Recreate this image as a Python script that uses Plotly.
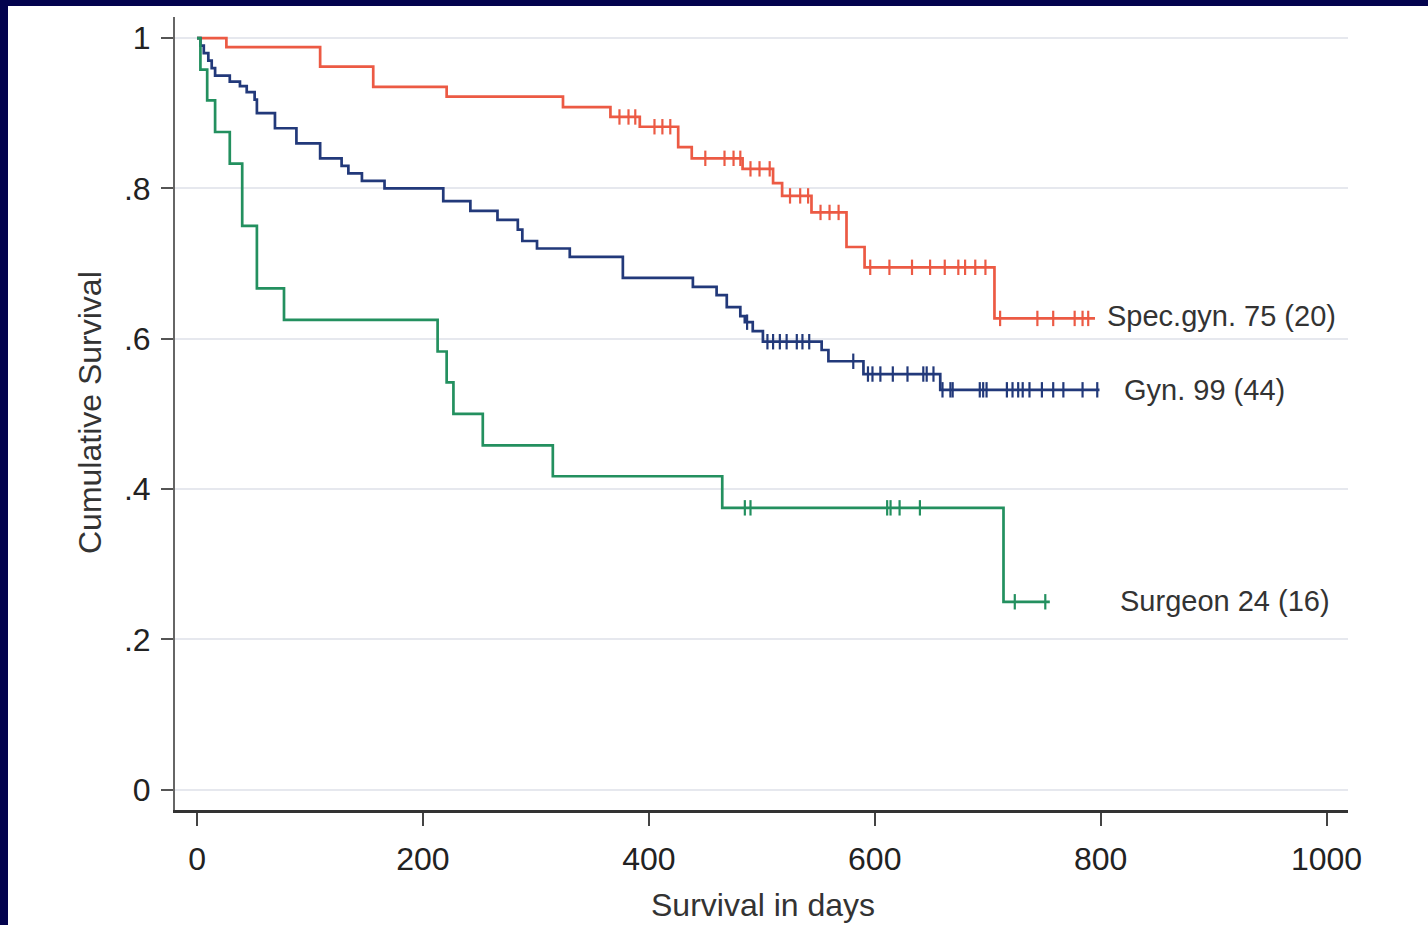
import numpy as np
import plotly.graph_objects as go

# ---------------- data ----------------
# Spec.gyn. (n=75)
red_t = [0, 26, 109, 156, 221, 324, 366, 392, 426, 438, 483, 510, 518, 544, 575, 591, 706]
red_s = [1.0, 0.988, 0.962, 0.935, 0.922, 0.908, 0.895, 0.882, 0.855, 0.840, 0.826, 0.807,
         0.790, 0.768, 0.722, 0.695, 0.627]
red_end = 795
red_cens = [374, 382, 388, 405, 412, 419, 450, 467, 475, 481, 490, 498, 507, 525, 534, 541,
            552, 560, 568, 596, 613, 633, 649, 662, 674, 680, 689, 698, 711, 744, 758, 777,
            784, 789]

# Gyn. (n=99)
blue_t = [0, 3, 6, 10, 13, 16, 29, 38, 44, 51, 53, 69, 88, 109, 128, 134, 146, 166, 218,
          242, 266, 284, 288, 301, 330, 377, 439, 460, 469, 481, 485, 492, 501, 553, 559,
          590, 658]
blue_s = [1.0, 0.990, 0.980, 0.970, 0.960, 0.950, 0.942, 0.936, 0.928, 0.918, 0.900, 0.880,
          0.860, 0.840, 0.830, 0.820, 0.810, 0.800, 0.783, 0.770, 0.758, 0.745, 0.730,
          0.720, 0.709, 0.681, 0.669, 0.658, 0.642, 0.630, 0.622, 0.610, 0.596, 0.585,
          0.570, 0.553, 0.532]
blue_end = 799
blue_cens = [487, 505, 510, 516, 522, 531, 536, 542, 581, 594, 598, 605, 616, 629, 643, 646,
             652, 660, 667, 669, 693, 696, 699, 717, 722, 727, 731, 737, 748, 758, 767, 784,
             797]

# Surgeon (n=24)
green_t = [0, 3, 9, 16, 29, 40, 53, 77, 213, 221, 227, 253, 315, 465, 714]
green_s = [1.0, 0.958, 0.917, 0.875, 0.833, 0.750, 0.667, 0.625, 0.583, 0.542, 0.500,
           0.458, 0.417, 0.375, 0.250]
green_end = 755
green_cens = [485, 490, 611, 614, 622, 640, 724, 751]

group_labels = ["Spec.gyn. 75 (20)", "Gyn. 99 (44)", "Surgeon 24 (16)"]
label_pos_x = [804, 819, 815]
label_pos_y = [0.630, 0.532, 0.251]

x_ticks = [0, 200, 400, 600, 800, 1000]
y_ticks = [0, 0.2, 0.4, 0.6, 0.8, 1.0]
y_ticktext = ["0", ".2", ".4", ".6", ".8", "1"]

# ---------------- figure ----------------
W, H = 1428, 925
L, R, T, B = 175, 80, 17, 115
PW, PH = W - L - R, H - T - B
FONT = "Liberation Sans, Arial, Helvetica, sans-serif"

colors = ["#EC5A44", "#22397A", "#23905F"]
series = [
    (red_t, red_s, red_end, red_cens),
    (blue_t, blue_s, blue_end, blue_cens),
    (green_t, green_s, green_end, green_cens),
]

fig = go.Figure()
for (t, s, end, cens), col, name in zip(series, colors, group_labels):
    xs = list(t) + [end]
    ys = list(s) + [s[-1]]
    fig.add_trace(go.Scatter(x=xs, y=ys, mode="lines", line=dict(color=col, width=2.7, shape="hv"),
                             name=name, showlegend=False, hoverinfo="skip"))
    idx = np.searchsorted(np.array(t), np.array(cens), side="right") - 1
    cy = [s[i] for i in idx]
    fig.add_trace(go.Scatter(x=cens, y=cy, mode="markers",
                             marker=dict(symbol="line-ns", size=11, line=dict(color=col, width=2.2)),
                             showlegend=False, hoverinfo="skip"))

for txt, lx, ly in zip(group_labels, label_pos_x, label_pos_y):
    fig.add_annotation(x=lx, y=ly, text=txt, showarrow=False, xanchor="left", yanchor="middle",
                       font=dict(family=FONT, size=29, color="#333333"))

# axis titles
fig.add_annotation(xref="paper", yref="paper", x=(90 - L) / PW, y=(H - B - 413) / PH,
                   text="Cumulative Survival", textangle=-90, showarrow=False,
                   xanchor="center", yanchor="middle",
                   font=dict(family=FONT, size=32, color="#333333"))
fig.add_annotation(xref="paper", yref="paper", x=(763 - L) / PW, y=-(905 - (H - B)) / PH,
                   text="Survival in days", showarrow=False,
                   xanchor="center", yanchor="middle",
                   font=dict(family=FONT, size=32, color="#333333"))

# navy frame bands (top and left)
navy = "#03034E"
fig.add_shape(type="rect", xref="paper", yref="paper", x0=-L / PW, x1=(8 - L) / PW,
              y0=-B / PH, y1=1 + T / PH, fillcolor=navy, line_width=0, layer="above")
fig.add_shape(type="rect", xref="paper", yref="paper", x0=-L / PW, x1=1 + R / PW,
              y0=1 + (T - 6) / PH, y1=1 + T / PH, fillcolor=navy, line_width=0, layer="above")

fig.update_layout(
    width=W, height=H,
    margin=dict(l=L, r=R, t=T, b=B, autoexpand=False),
    paper_bgcolor="white", plot_bgcolor="white",
    font=dict(family=FONT, color="#222222"),
    xaxis=dict(range=[-19.5, 1019], tickvals=x_ticks, ticks="outside", ticklen=13, tickwidth=2,
               tickcolor="#444444", showline=True, linecolor="#333333", linewidth=2.5,
               showgrid=False, zeroline=False, tickfont=dict(size=32, color="#222222"),
               ticklabelstandoff=6),
    yaxis=dict(range=[-0.027, 1.028], tickvals=y_ticks, ticktext=y_ticktext, ticks="outside",
               ticklen=12, tickwidth=2, tickcolor="#555555", showline=True, linecolor="#666666",
               linewidth=2, showgrid=True, gridcolor="#E6E8EE", gridwidth=1.5, zeroline=False,
               tickfont=dict(size=32, color="#222222"), ticklabelstandoff=4),
)

fig.write_html("out.html", config={"displayModeBar": False},
               post_script="document.body.style.margin='0px';document.body.style.overflow='hidden';")
